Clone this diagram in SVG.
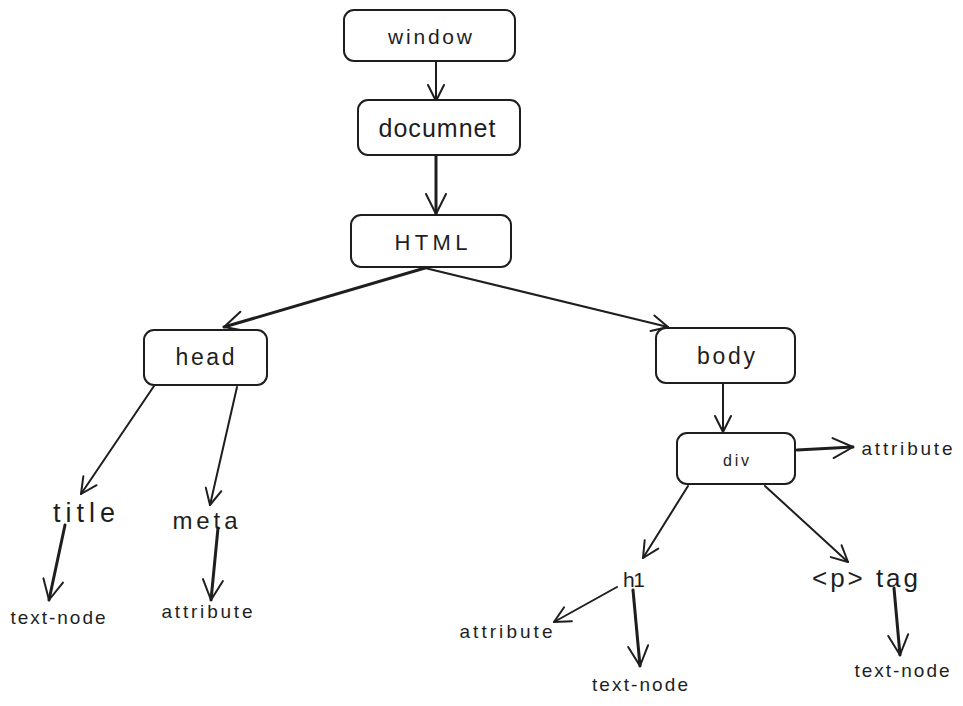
<svg xmlns="http://www.w3.org/2000/svg" width="963" height="706" viewBox="0 0 963 706">
<defs>
<marker id="ah" viewBox="0 0 20 20" refX="18" refY="10" markerWidth="20" markerHeight="20" markerUnits="userSpaceOnUse" orient="auto">
<path d="M2,2 L18,10 L2,18" fill="none" stroke="#1e1e1e" stroke-width="2" stroke-linecap="round" stroke-linejoin="round"/>
</marker>
<marker id="ahb" viewBox="0 0 24 24" refX="22" refY="12" markerWidth="24" markerHeight="24" markerUnits="userSpaceOnUse" orient="auto">
<path d="M2,2 L22,12 L2,22" fill="none" stroke="#1e1e1e" stroke-width="2" stroke-linecap="round" stroke-linejoin="round"/>
</marker>
</defs>
<style>
.box{fill:#fff;stroke:#1e1e1e;stroke-width:2}
.t{font-family:"Liberation Sans",Arial,sans-serif;fill:#1e1e1e;text-anchor:middle;dominant-baseline:central}
.c{fill:none;stroke:#1e1e1e;stroke-width:2;stroke-linecap:round;marker-end:url(#ah)}
.cb{fill:none;stroke:#1e1e1e;stroke-width:3;stroke-linecap:round;marker-end:url(#ahb)}
</style>
<rect width="963" height="706" fill="#fff"/>
<g id="connectors">
<line class="c" x1="436" y1="62" x2="436" y2="101"/>
<line class="cb" x1="436" y1="156" x2="436" y2="214"/>
<line class="cb" x1="425" y1="268" x2="224" y2="327"/>
<line class="c" x1="425" y1="268" x2="668" y2="327"/>
<line class="c" x1="723" y1="384" x2="723" y2="432"/>
<line class="cb" x1="797" y1="450" x2="853" y2="447"/>
<line class="c" x1="688" y1="486" x2="643" y2="558"/>
<line class="c" x1="765" y1="486" x2="848" y2="562"/>
<line class="c" x1="617" y1="587" x2="554" y2="622"/>
<line class="cb" x1="633" y1="590" x2="640" y2="666"/>
<line class="cb" x1="894" y1="588" x2="900" y2="655"/>
<line class="c" x1="154" y1="386" x2="81" y2="494"/>
<line class="c" x1="237" y1="387" x2="210" y2="505"/>
<line class="cb" x1="65" y1="525" x2="49" y2="600"/>
<line class="cb" x1="218" y1="528" x2="211" y2="600"/>
</g>
<g id="window"><rect class="box" x="344" y="10" width="171" height="51" rx="10"/><text class="t" x="430" y="36" font-size="21" textLength="84" lengthAdjust="spacing">window</text></g>
<g id="documnet"><rect class="box" x="358" y="100" width="162" height="55" rx="10"/><text class="t" x="437" y="128" font-size="25" textLength="117" lengthAdjust="spacing">documnet</text></g>
<g id="html"><rect class="box" x="351" y="215" width="160" height="52" rx="10"/><text class="t" x="431" y="242" font-size="22" textLength="73" lengthAdjust="spacing">HTML</text></g>
<g id="head"><rect class="box" x="144" y="330" width="123" height="55" rx="10"/><text class="t" x="205" y="357" font-size="23" textLength="59" lengthAdjust="spacing">head</text></g>
<g id="body"><rect class="box" x="656" y="328" width="139" height="55" rx="10"/><text class="t" x="726" y="356" font-size="23" textLength="58" lengthAdjust="spacing">body</text></g>
<g id="div"><rect class="box" x="677" y="433" width="118" height="51" rx="10"/><text class="t" x="736" y="460" font-size="16" textLength="26" lengthAdjust="spacing">div</text></g>
<g id="div-attribute"><text class="t" x="907" y="448" font-size="19" textLength="91" lengthAdjust="spacing">attribute</text></g>
<g id="title"><text class="t" x="84" y="513" font-size="27" textLength="62" lengthAdjust="spacing">title</text></g>
<g id="meta"><text class="t" x="205" y="520" font-size="24" textLength="65" lengthAdjust="spacing">meta</text></g>
<g id="title-text-node"><text class="t" x="58" y="617" font-size="19" textLength="95" lengthAdjust="spacing">text-node</text></g>
<g id="meta-attribute"><text class="t" x="207" y="611" font-size="19" textLength="91" lengthAdjust="spacing">attribute</text></g>
<g id="h1"><text class="t" x="634" y="579" font-size="21" textLength="22" lengthAdjust="spacing">h1</text></g>
<g id="p-tag"><text class="t" x="865" y="578" font-size="26" textLength="106" lengthAdjust="spacing">&lt;p&gt; tag</text></g>
<g id="h1-attribute"><text class="t" x="506" y="631" font-size="19" textLength="93" lengthAdjust="spacing">attribute</text></g>
<g id="h1-text-node"><text class="t" x="640" y="684" font-size="19" textLength="96" lengthAdjust="spacing">text-node</text></g>
<g id="p-text-node"><text class="t" x="902" y="670" font-size="19" textLength="95" lengthAdjust="spacing">text-node</text></g>
</svg>
